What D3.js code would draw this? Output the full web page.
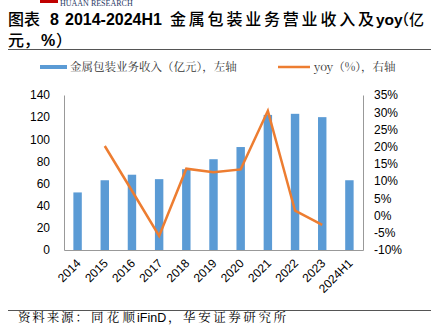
<!DOCTYPE html>
<html><head><meta charset="utf-8">
<script src="https://cdn.jsdelivr.net/npm/d3@7"></script>
<style>
body{margin:0;background:#fff;}
svg{display:block;}
</style></head>
<body><svg id="c" width="431" height="328"></svg>
<script>
const categories = ["2014","2015","2016","2017","2018","2019","2020","2021","2022","2023","2024H1"];
const revenue = [52,63,68,64,73,82,93,122,123,120,63];
const yoy = [null,20.2,7.2,-5.9,13.6,12.6,13.4,30.4,1.4,-2.7,null];
const leftTicks = [0,20,40,60,80,100,120,140];
const rightTicks = [-10,-5,0,5,10,15,20,25,30,35];
// title / source pieces: [text, isLatin]
const titleLine1 = [["图表",0],["8",1],["2014-2024H1",1],["金属包装业务营业收入及",0],["yoy",1],["（亿",0]];
const titleLine2 = [["元，",0],["%",1],["）",0]];
const legendLabels = ["金属包装业务收入（亿元），左轴","yoy（%），右轴"];
const sourceParts = [["资料来源：",0],["同花顺",0],["iFinD",1],["，华安证券研究所",0]];

const svg = d3.select("#c");
const L=64, R=363, T=95, B=250;
const x = d3.scaleBand().domain(categories).range([L,R]).paddingInner(0.69).paddingOuter(0.345);
const yL = d3.scaleLinear().domain([0,140]).range([B,T]);
const yR = d3.scaleLinear().domain([-10,35]).range([B,T]);
const cx = d => x(d)+x.bandwidth()/2;

// logo remnants
svg.append("rect").attr("x",40).attr("y",0).attr("width",18).attr("height",3).attr("fill","#c00000");
svg.append("text").attr("x",60).attr("y",6).attr("font-family","Liberation Serif").attr("font-size",8).attr("fill","#1f3864").text("HUAAN RESEARCH");

const latinF = "'Liberation Sans',Arial,sans-serif";
const cjkF = "'Noto Sans CJK SC',sans-serif";
const lf = "'Noto Serif CJK SC','Noto Sans CJK SC',serif";
// one text element per line; tspans placed at x; [x0, x1 (stretch), size]
function placed(parts, spans, yy, latinOpts, cjkOpts){
  const t = svg.append("text").attr("y",yy).attr("fill","#000");
  parts.forEach(([s,lat],i)=>{
    const o = lat?latinOpts:cjkOpts;
    const sp = t.append("tspan").attr("x",spans[i][0]).attr("y",yy)
      .attr("font-family",o.f).attr("font-size",spans[i][2]||o.s).attr("font-weight",o.w).text(s);
    if(spans[i][1]) sp.attr("textLength",spans[i][1]-spans[i][0]).attr("lengthAdjust","spacing");
  });
}
const tL = {f:latinF,s:16,w:"bold"}, tC = {f:cjkF,s:16,w:"500"};
placed(titleLine1,[[8],[50],[65],[170,374],[376,0,15.5],[394,0,15]],25,tL,tC);
placed(titleLine2,[[8],[41],[56]],46,tL,tC);
svg.append("line").attr("x1",8).attr("x2",431).attr("y1",49.5).attr("y2",49.5).attr("stroke","#555").attr("stroke-width",1);

// legend
svg.append("rect").attr("x",40).attr("y",65).attr("width",27).attr("height",4).attr("fill","#5B9BD5");
svg.append("text").attr("x",70).attr("y",71).attr("font-family",lf).attr("font-size",11.5).attr("fill","#333").text(legendLabels[0]);
svg.append("line").attr("x1",278).attr("x2",310).attr("y1",67).attr("y2",67).attr("stroke","#ED7D31").attr("stroke-width",2.5);
svg.append("text").attr("x",314).attr("y",71).attr("font-family",lf).attr("font-size",11.5).attr("fill","#333").text(legendLabels[1]);

// bars
svg.append("g").selectAll("rect").data(categories).join("rect")
  .attr("x",d=>x(d)).attr("width",x.bandwidth())
  .attr("y",(d,i)=>yL(revenue[i])).attr("height",(d,i)=>B-yL(revenue[i]))
  .attr("fill","#5B9BD5");

// axes
const af = latinF;
const gL = svg.append("g").attr("transform",`translate(${L},0)`).call(d3.axisLeft(yL).tickValues(leftTicks).tickSize(0).tickPadding(14));
gL.select(".domain").attr("stroke","#999");
gL.selectAll("text").attr("font-family",af).attr("font-size",12).attr("fill","#000");
const gR = svg.append("g").attr("transform",`translate(${R},0)`).call(d3.axisRight(yR).tickValues(rightTicks).tickSize(0).tickPadding(11).tickFormat(d=>d+"%"));
gR.select(".domain").attr("stroke","#999");
gR.selectAll("text").attr("font-family",af).attr("font-size",12).attr("fill","#000");
const gB = svg.append("g").attr("transform",`translate(0,${B})`).call(d3.axisBottom(x).tickSize(0).tickPadding(0));
gB.select(".domain").attr("stroke","#999");
gB.selectAll("text").attr("font-family",af).attr("font-size",12).attr("fill","#000")
  .attr("text-anchor","end").attr("dy","0").attr("transform","translate(4,14) rotate(-45)");

// line
const line = d3.line().defined(d=>d[1]!==null).x(d=>cx(d[0])).y(d=>yR(d[1]));
svg.append("path").datum(categories.map((c,i)=>[c,yoy[i]])).attr("d",line)
  .attr("fill","none").attr("stroke","#ED7D31").attr("stroke-width",2.5).attr("stroke-linejoin","miter");

// footer
svg.append("line").attr("x1",8).attr("x2",431).attr("y1",310.5).attr("y2",310.5).attr("stroke","#555").attr("stroke-width",1);
placed(sourceParts,[[18,88],[91,135],[137],[168,286]],322,{f:latinF,s:12.5,w:"normal"},{f:lf,s:12.5,w:"normal"});
</script></body></html>
